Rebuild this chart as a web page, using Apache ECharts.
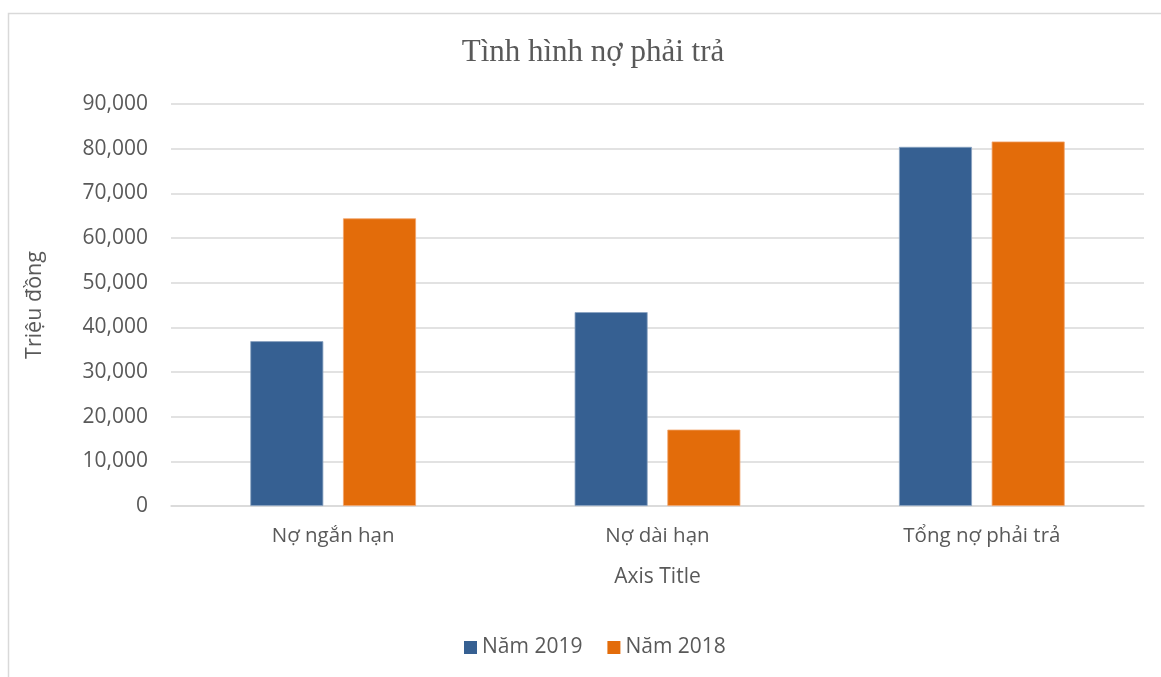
<!DOCTYPE html>
<html lang="vi">
<head>
    <meta charset="UTF-8">
    <title>Tình hình nợ phải trả</title>
    <script src="https://cdn.jsdelivr.net/npm/echarts@6/dist/echarts.min.js"></script>
    <style>
        html, body { margin: 0; padding: 0; background: #fff; }
        #main { width: 1161px; height: 677px; }
    </style>
</head>
<body>
    <div id="main"></div>
    <script>
    // dữ liệu
    var categories = ['Nợ ngắn hạn', 'Nợ dài hạn', 'Tổng nợ phải trả'];
    var nam2019 = [36900, 43400, 80400];
    var nam2018 = [64400, 17100, 81600];
    var seriesNames = ['Năm 2019', 'Năm 2018'];

    var textColor = '#595959';
    var font = '"Open Sans", "Noto Sans", sans-serif';

    var myChart = echarts.init(document.getElementById('main'));

    var option = {
        animation: false,
        color: ['#366092', '#e36c0a'],
        title: {
            text: 'Tình hình nợ phải trả',
            left: 588,
            textAlign: 'center',
            top: 32,
            textStyle: {
                fontFamily: '"Liberation Serif", "Times New Roman", serif',
                fontWeight: 'normal',
                fontSize: 31,
                color: textColor
            }
        },
        graphic: [{
            type: 'rect',
            shape: { x: 8.5, y: 13.5, width: 1200, height: 700 },
            style: { fill: 'none', stroke: '#d9d9d9', lineWidth: 1.5 },
            silent: true
        }],
        legend: {
            data: seriesNames,
            left: 459,
            top: 632,
            itemWidth: 13,
            itemHeight: 13,
            itemGap: 25,
            icon: 'rect',
            itemStyle: { borderWidth: 0 },
            textStyle: { fontFamily: font, fontSize: 21, color: textColor }
        },
        grid: {
            left: 171,
            right: 17,
            top: 104,
            bottom: 171
        },
        xAxis: {
            type: 'category',
            data: categories,
            name: 'Axis Title',
            nameLocation: 'middle',
            nameGap: 61,
            nameTextStyle: { fontFamily: font, fontSize: 21, color: textColor },
            axisLine: { lineStyle: { color: '#d9d9d9', width: 1.5 } },
            axisTick: { show: false },
            axisLabel: { margin: 20, fontFamily: font, fontSize: 20.5, color: textColor }
        },
        yAxis: {
            type: 'value',
            min: 0,
            max: 90000,
            interval: 10000,
            name: 'Triệu đồng',
            nameLocation: 'middle',
            nameGap: 125,
            nameTextStyle: { fontFamily: font, fontSize: 21.5, color: textColor },
            axisLine: { show: false },
            axisTick: { show: false },
            splitLine: { lineStyle: { color: '#d9d9d9', width: 1.5 } },
            axisLabel: {
                margin: 23,
                fontFamily: font,
                fontSize: 21,
                color: textColor,
                formatter: function (v) { return v.toLocaleString('en-US'); }
            }
        },
        series: [{
            name: seriesNames[0],
            type: 'bar',
            data: nam2019,
            barWidth: 73,
            barGap: '27%',
            itemStyle: { borderColor: '#8aa3c2', borderWidth: 0.8 }
        }, {
            name: seriesNames[1],
            type: 'bar',
            data: nam2018,
            barWidth: 73,
            itemStyle: { borderColor: '#f1a56c', borderWidth: 0.8 }
        }]
    };

    myChart.setOption(option);
    </script>
</body>
</html>
